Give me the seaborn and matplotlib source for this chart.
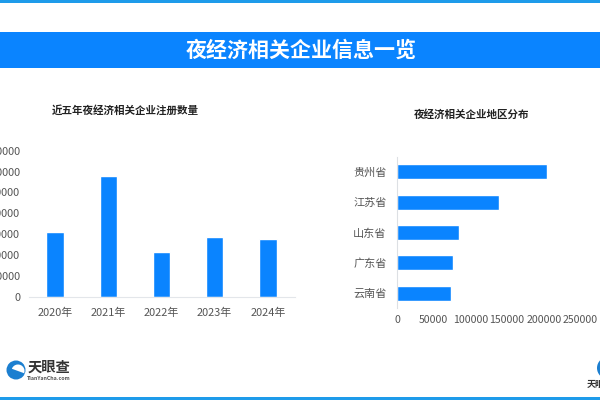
import matplotlib
matplotlib.use("Agg")
import matplotlib.pyplot as plt
from matplotlib.patches import Rectangle, Circle, Wedge
import seaborn as sns

years = ["2020年", "2021年", "2022年", "2023年", "2024年"]
registrations = [31000, 57900, 21400, 28600, 27700]
provinces = ["贵州省", "江苏省", "山东省", "广东省", "云南省"]
province_counts = [204000, 138800, 84300, 75800, 73000]
year_ticks = [0, 10000, 20000, 30000, 40000, 50000, 60000, 70000]
province_ticks = [0, 50000, 100000, 150000, 200000, 250000]

BLUE = "#0A84FF"
STRIPE = "#1E9BEA"
TICK = "#555555"
W, H = 600, 400

sns.set_theme(style="white")
plt.rcParams["font.family"] = ["Noto Sans CJK SC", "DejaVu Sans"]

fig = plt.figure(figsize=(6, 4), dpi=100, facecolor="white")


def axes_px(left, top, right, bottom):
    return fig.add_axes([left / W, 1 - bottom / H, (right - left) / W, (bottom - top) / H])


def band(top, bottom, color):
    fig.add_artist(Rectangle((0, 1 - bottom / H), 1, (bottom - top) / H,
                             transform=fig.transFigure, color=color, lw=0))


band(0, 3, STRIPE)
band(397, 400, STRIPE)
band(32, 68, BLUE)
fig.text(301.5 / W, 1 - 50.5 / H, "夜经济相关企业信息一览", color="white", fontsize=15.1,
         fontweight="bold", ha="center", va="center")

ax1 = axes_px(28.5, 150.7, 294.5, 296.7)
sns.barplot(x=years, y=registrations, color=BLUE, width=0.325, saturation=1, ax=ax1)
ax1.set_ylim(0, year_ticks[-1])
ax1.set_yticks(year_ticks)
ax1.set_xlabel("")
ax1.set_ylabel("")
ax1.tick_params(axis="both", length=0, labelsize=7.9, labelcolor=TICK)
ax1.tick_params(axis="x", pad=8)
ax1.tick_params(axis="y", pad=6)
sns.despine(ax=ax1, left=True)
ax1.spines["bottom"].set_color("#E3E6EA")
ax1.spines["bottom"].set_linewidth(0.8)
fig.text(125.5 / W, 1 - 110 / H, "近五年夜经济相关企业注册数量", color="#222222", fontsize=7.6,
         fontweight="bold", ha="center", va="center")

ax2 = axes_px(397, 156.7, 580.6, 308.3)
sns.barplot(y=provinces, x=province_counts, color=BLUE, width=0.5, saturation=1, ax=ax2, orient="h")
ax2.set_xlim(0, province_ticks[-1])
ax2.set_xticks(province_ticks)
ax2.set_xlabel("")
ax2.set_ylabel("")
ax2.tick_params(axis="both", length=0, labelsize=7.6, labelcolor=TICK)
ax2.tick_params(axis="x", pad=5)
ax2.tick_params(axis="y", labelsize=8, pad=7.5)
sns.despine(ax=ax2, bottom=True)
ax2.spines["left"].set_color("#DDE0E4")
ax2.spines["left"].set_linewidth(0.8)
fig.text(471.5 / W, 1 - 114.5 / H, "夜经济相关企业地区分布", color="#222222", fontsize=7.6,
         fontweight="bold", ha="center", va="center")

# Logos
overlay = fig.add_axes([0, 0, 1, 1], facecolor="none")
overlay.set_xlim(0, W)
overlay.set_ylim(H, 0)
overlay.axis("off")
for cx, cy, r in [(16, 370, 9.5), (608, 368, 11)]:
    overlay.add_patch(Circle((cx, cy), r, color="#1C7FD0", lw=0))
overlay.add_patch(Wedge((18, 371), 6.5, 200, 20, color="white", lw=0))
overlay.text(48.5, 368, "天眼查", fontsize=10.3, fontweight="bold", color="#333333", ha="center", va="center")
overlay.text(48.5, 378, "TianYanCha.com", fontsize=3.8, fontweight="bold", color="#555555", ha="center", va="center")
overlay.text(587, 384, "天眼查", fontsize=6.5, fontweight="bold", color="#333333", ha="left", va="center")

fig.savefig("out.png", dpi=100)
